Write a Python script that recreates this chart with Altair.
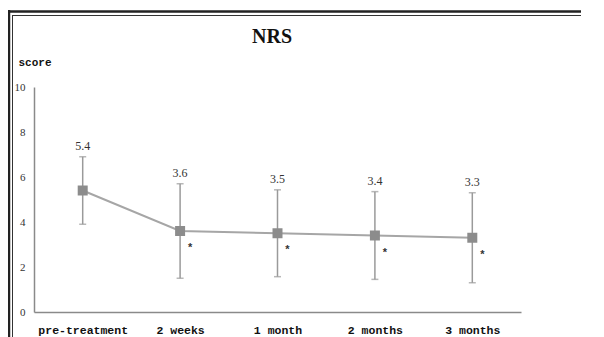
import altair as alt
import pandas as pd

periods = ["pre-treatment", "2 weeks", "1 month", "2 months", "3 months"]
means = [5.4, 3.6, 3.5, 3.4, 3.3]
sds = [1.5, 2.1, 1.93, 1.95, 2.0]
sig = ["", "*", "*", "*", "*"]
labels = ["5.4", "3.6", "3.5", "3.4", "3.3"]
chart_title = "NRS"

df = pd.DataFrame({
    "period": periods,
    "mean": means,
    "lo": [m - s for m, s in zip(means, sds)],
    "hi": [m + s for m, s in zip(means, sds)],
    "sig": sig,
    "label": labels,
})

W, H = 487, 225
GREY = "#9a9a9a"

x = alt.X("period:N", sort=periods,
          scale=alt.Scale(type="point", padding=0.5),
          axis=alt.Axis(title=None, labelAngle=0, ticks=False, domainColor="#8a8a8a",
                        domainWidth=1.5, labelFont="Liberation Mono", labelFontWeight="bold",
                        labelFontSize=11.5, labelColor="#111", labelPadding=12, grid=False))
y = alt.Y("mean:Q", scale=alt.Scale(domain=[0, 10]),
          axis=alt.Axis(values=[0, 2, 4, 6, 8, 10], ticks=False, grid=False,
                        domainColor="#8a8a8a", domainWidth=1.5,
                        labelFont="Liberation Serif", labelFontSize=11, labelColor="#333",
                        labelPadding=9,
                        title="score", titleAngle=0, titleAlign="left", titleBaseline="middle",
                        titleX=-16, titleY=-25, titleFont="Liberation Mono",
                        titleFontSize=11, titleFontWeight="bold", titleColor="#111"))

base = alt.Chart(df)

err = base.mark_rule(color=GREY, strokeWidth=1.5).encode(x=x, y="lo:Q", y2="hi:Q")
cap_hi = base.mark_tick(color=GREY, size=7, thickness=1.5, orient="horizontal").encode(x=x, y="hi:Q")
cap_lo = base.mark_tick(color=GREY, size=7, thickness=1.5, orient="horizontal").encode(x=x, y="lo:Q")
line = base.mark_line(color="#a6a6a6", strokeWidth=2).encode(x=x, y=y)
pts = base.mark_point(shape="square", filled=True, size=100, color="#8c8c8c", opacity=1).encode(x=x, y="mean:Q")
lab = base.mark_text(font="Liberation Serif", fontSize=12, color="#333", dy=-11,
                     baseline="middle").encode(x=x, y="hi:Q", text="label:N")
star = base.mark_text(font="Liberation Sans", fontSize=11, fontWeight="bold", color="#333",
                      dx=10, dy=17, baseline="middle").encode(x=x, y="mean:Q", text="sig:N")

frame_df = pd.DataFrame({"k": [0]})
fb = alt.Chart(frame_df)
outer_v = fb.mark_rule(color="#222", strokeWidth=2.5).encode(
    x=alt.value(-25), y=alt.value(-77), y2=alt.value(260))
inner_v = fb.mark_rule(color="#333", strokeWidth=1).encode(
    x=alt.value(-21.5), y=alt.value(-72), y2=alt.value(260))
outer_h = fb.mark_rule(color="#222", strokeWidth=2.5).encode(
    x=alt.value(-26.5), x2=alt.value(600), y=alt.value(-75.5))
inner_h = fb.mark_rule(color="#333", strokeWidth=1).encode(
    x=alt.value(-21.5), x2=alt.value(600), y=alt.value(-71.5))

title_df = pd.DataFrame({"t": [chart_title]})
title = alt.Chart(title_df).mark_text(font="Liberation Serif", fontSize=20, fontWeight="bold",
                                      color="#111", baseline="middle", align="center").encode(
    x=alt.value(238), y=alt.value(-50), text="t:N")

chart = alt.layer(outer_v, inner_v, outer_h, inner_h, title, err, cap_hi, cap_lo, line, pts, lab, star).properties(
    width=W, height=H,
    autosize=alt.AutoSizeParams(type="none"),
    padding={"left": 26, "top": 79, "right": 60, "bottom": 25},
).configure_view(stroke=None)

chart.save("out.html", embed_options={"renderer": "svg", "actions": False})
